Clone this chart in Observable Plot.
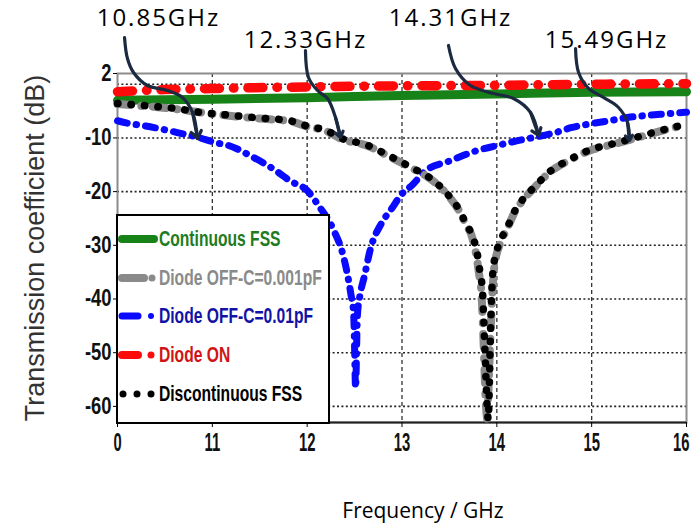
<!DOCTYPE html>
<html>
<head>
<meta charset="utf-8">
<script src="https://cdn.jsdelivr.net/npm/d3@7"></script>
<script src="https://cdn.jsdelivr.net/npm/@observablehq/plot@0.6"></script>
<style>
  html, body { margin: 0; padding: 0; background: #fff; }
  #wrap { position: relative; width: 696px; height: 531px; overflow: hidden; }
  #wrap svg { overflow: visible; }
  #legend { position: absolute; left: 116px; top: 214px; width: 210px; height: 206px;
            border: 2px solid #000; background: #fff; box-sizing: content-box; }
  .lrow { position: absolute; left: 0; height: 30px; display: flex; align-items: center; }
  .lrow svg { width: 40px; height: 14px; flex: none; }
  .lrow span { display: inline-block; margin-left: 1px; font-family: "Liberation Sans", Arial, sans-serif;
               font-weight: bold; font-size: 22px; white-space: nowrap; transform: scaleX(0.71); transform-origin: 0 50%; }
</style>
</head>
<body>
<div id="wrap"></div>
<script>
// ---------------- data ----------------
const xTicks = [10, 11, 12, 13, 14, 15, 16];
const xTickLabels = ["0", "11", "12", "13", "14", "15", "16"];
const yTicks = [2, -10, -20, -30, -40, -50, -60];
const yTickLabels = ["2", "-10", "-20", "-30", "-40", "-50", "-60"];
const yGrid = [0, -10, -20, -30, -40, -50, -60];
const xGrid = [11, 12, 13, 14, 15];

const seriesNames = ["Continuous FSS", "Diode OFF-C=0.001pF", "Diode OFF-C=0.01pF", "Diode ON", "Discontinuous FSS"];

const freqContinuous = [10, 11, 12, 13, 14, 15, 16];
const continuousFSS = [-3.0, -2.8, -2.5, -2.1, -1.8, -1.5, -1.4];

const freqDiodeOn = [10, 10.5, 11, 12, 13, 14, 15, 16];
const diodeOn = [-1.4, -1.0, -0.8, -0.5, -0.3, -0.2, 0.0, 0.1];

const freqDiscontinuous = [10.0, 10.3, 10.6, 10.9, 11.2, 11.5, 11.82, 12.0, 12.2, 12.35, 12.64, 12.86, 13.1, 13.29, 13.4, 13.5, 13.6, 13.67, 13.74, 13.79, 13.82, 13.85, 13.86, 13.87, 13.88, 13.89, 13.9, 13.91, 13.92, 13.93, 13.94, 13.965, 14.04, 14.11, 14.18, 14.28, 14.41, 14.55, 14.75, 15.02, 15.2, 15.41, 15.65, 15.94, 16.0];
const discontinuousFSS = [-3.6, -4.0, -4.5, -5.3, -5.8, -6.3, -6.8, -7.8, -8.6, -10.0, -11.4, -13.3, -15.5, -17.4, -19.0, -20.9, -23.3, -25.8, -28.2, -31.2, -34.7, -38.8, -42.9, -47.5, -52.0, -57.0, -60.5, -62.5, -57.0, -49.0, -42.0, -33.8, -29.1, -26.7, -23.9, -21.3, -18.9, -16.4, -14.2, -12.0, -11.2, -10.2, -9.0, -7.7, -7.5];

const freqOff001 = [10.0, 10.3, 10.6, 10.9, 11.2, 11.5, 11.82, 12.0, 12.2, 12.35, 12.64, 12.86, 13.1, 13.29, 13.4, 13.5, 13.6, 13.67, 13.74, 13.78, 13.81, 13.84, 13.85, 13.86, 13.87, 13.88, 13.89, 13.9, 13.91, 13.93, 13.95, 13.97, 14.04, 14.11, 14.18, 14.28, 14.41, 14.55, 14.75, 15.02, 15.2, 15.41, 15.65, 15.94, 16.0];
const diodeOff001 = [-3.7, -4.1, -4.6, -5.3, -5.9, -6.4, -6.9, -7.9, -8.7, -10.1, -11.5, -13.4, -15.6, -17.5, -19.1, -21.0, -23.5, -26.0, -28.5, -31.5, -35.0, -39.5, -43.5, -48.0, -53.0, -58.0, -61.0, -62.5, -58.0, -48.0, -40.0, -34.5, -29.4, -26.9, -24.1, -21.5, -19.0, -16.5, -14.3, -12.1, -11.3, -10.3, -9.1, -7.8, -7.6];

const freqOff01 = [10.0, 10.12, 10.27, 10.45, 10.63, 10.85, 11.04, 11.17, 11.4, 11.67, 11.82, 12.0, 12.12, 12.28, 12.38, 12.46, 12.49, 12.5, 12.51, 12.53, 12.56, 12.6, 12.67, 12.78, 12.89, 13.0, 13.1, 13.25, 13.5, 13.8, 14.01, 14.22, 14.39, 14.62, 14.78, 15.01, 15.2, 15.38, 15.59, 15.8, 16.0];
const diodeOff01 = [-6.8, -7.3, -7.7, -8.3, -9.0, -9.9, -10.9, -11.4, -13.3, -16.1, -18.0, -19.8, -22.6, -27.2, -31.9, -39.0, -42.7, -49.0, -56.5, -43.0, -39.0, -36.0, -30.5, -26.0, -23.2, -20.4, -18.9, -16.1, -14.3, -12.3, -11.4, -10.5, -9.9, -9.0, -8.1, -7.3, -6.75, -6.2, -5.8, -5.5, -5.2];

// annotations (frequency / dB) : labels and arrow paths
const annotLabels = ["10.85GHz", "12.33GHz", "14.31GHz", "15.49GHz"];
const annotLabelF = [10.432, 11.982, 13.512, 15.157];
const annotLabelDb = [12.24, 8.15, 12.24, 8.15];
const arrowPathF = [
  [10.074, 10.105, 10.169, 10.316, 10.527, 10.685, 10.791, 10.844],
  [11.982, 12.014, 12.109, 12.215, 12.299, 12.352],
  [13.490, 13.564, 13.722, 13.965, 14.176, 14.355, 14.440],
  [14.830, 14.862, 14.967, 15.125, 15.283, 15.378, 15.399]
];
const arrowPathDb = [
  [8.70, 4.79, 2.19, -0.24, -1.17, -2.47, -5.26, -10.11],
  [6.28, 1.26, -1.17, -2.66, -6.20, -9.92],
  [7.22, 2.93, -0.24, -1.73, -2.66, -5.26, -9.55],
  [6.66, 2.19, -0.79, -2.47, -4.33, -7.13, -10.48]
];

// ---------------- build ----------------
const rows = (fs, vs) => fs.map((f, i) => ({f, v: vs[i]}));
const xLab = new Map(xTicks.map((t, i) => [t, xTickLabels[i]]));
const yLab = new Map(yTicks.map((t, i) => [t, yTickLabels[i]]));

const arrowRows = arrowPathF.flatMap((fs, k) => fs.map((f, i) => ({k, f, v: arrowPathDb[k][i]})));
const arrowHeads = arrowPathF.map((fs, k) => {
  const n = fs.length;
  return {f1: fs[n - 2], v1: arrowPathDb[k][n - 2], f2: fs[n - 1], v2: arrowPathDb[k][n - 1]};
});
const labelRows = annotLabels.map((t, i) => ({t, f: annotLabelF[i], v: annotLabelDb[i]}));

const C = {green: "#178217", grey: "#8a8a8a", blue: "#0a0aff", red: "#ff0a0a", black: "#000000", navy: "#1b2a40"};
const tickFont = "'Liberation Sans', Arial, sans-serif";

const chart = Plot.plot({
  width: 696, height: 531,
  marginLeft: 117, marginRight: 10, marginTop: 73, marginBottom: 109,
  style: {background: "white", overflow: "visible"},
  x: {domain: [10, 16]},
  y: {domain: [-63, 2]},
  marks: [
    Plot.gridY(yGrid, {stroke: "#222", strokeOpacity: 1, strokeDasharray: "2,2.4", strokeWidth: 1.6}),
    Plot.gridX(xGrid, {stroke: "#333", strokeOpacity: 1, strokeDasharray: "4,3", strokeWidth: 1.3}),
    Plot.frame({stroke: "#8c8c8c", strokeWidth: 2}),
    Plot.ruleY([-63], {stroke: "#222", strokeWidth: 2}),
    Plot.axisY(yTicks, {tickFormat: d => yLab.get(d), tickSize: 4, tickPadding: 2, label: null,
      fontSize: 23, fontWeight: "bold", fontFamily: tickFont, className: "ytk", fill: "#111"}),
    Plot.axisX(xTicks, {tickFormat: d => xLab.get(d), tickSize: 5, tickPadding: 5, label: null,
      fontSize: 26, fontWeight: "bold", fontFamily: tickFont, className: "xtk", fill: "#111"}),
    Plot.line(rows(freqContinuous, continuousFSS), {x: "f", y: "v", stroke: C.green, strokeWidth: 9, curve: "monotone-x"}),
    Plot.line(rows(freqDiodeOn, diodeOn), {x: "f", y: "v", stroke: C.red, strokeWidth: 9.5, strokeLinecap: "round",
      strokeDasharray: "15,14,0.5,14", curve: "monotone-x"}),
    Plot.line(rows(freqOff01, diodeOff01), {x: "f", y: "v", stroke: C.blue, strokeWidth: 7, strokeLinecap: "round",
      strokeDasharray: "10,9,0.5,9", curve: "monotone-x"}),
    Plot.line(rows(freqOff001, diodeOff001), {x: "f", y: "v", stroke: C.grey, strokeWidth: 8, strokeLinecap: "round",
      strokeDasharray: "13,11,0.5,11", curve: "monotone-x"}),
    Plot.line(rows(freqDiscontinuous, discontinuousFSS), {x: "f", y: "v", stroke: C.black, strokeWidth: 7.5, strokeLinecap: "round",
      strokeDasharray: "0.5,13", curve: "monotone-x"}),
    Plot.line(arrowRows, {x: "f", y: "v", z: "k", stroke: C.navy, strokeWidth: 3.2, curve: "catmull-rom"}),
    Plot.arrow(arrowHeads, {x1: "f1", y1: "v1", x2: "f2", y2: "v2", stroke: C.navy, strokeWidth: 3.2,
      headLength: 21, headAngle: 72}),
    Plot.text(labelRows, {x: "f", y: "v", text: "t", fontSize: 24, fill: "#000",
      fontFamily: "'Open Sans', sans-serif", className: "annot"}),
    Plot.text(["Transmission coefficient (dB)"], {frameAnchor: "left", textAnchor: "middle", dx: -82, rotate: -90, fontSize: 27,
      fill: "#333", fontFamily: "'Liberation Sans', Arial, sans-serif"}),
    Plot.text(["Frequency / GHz"], {frameAnchor: "bottom", dx: 21, dy: 95, fontSize: 21,
      fill: "#000", fontFamily: "'Open Sans', sans-serif"})
  ]
});

const wrap = document.getElementById("wrap");
wrap.appendChild(chart);
chart.querySelectorAll("g.annot text").forEach(el => el.style.letterSpacing = "2px");

// condense the tick labels (reference uses a narrow bold face)
function condense(sel, factor) {
  chart.querySelectorAll(sel).forEach(t => {
    const w = t.getComputedTextLength();
    t.setAttribute("textLength", (w * factor).toFixed(1));
    t.setAttribute("lengthAdjust", "spacingAndGlyphs");
  });
}
condense("g.xtk text", 0.57);
condense("g.ytk text", 0.8);
// keep the last x label inside the picture: anchor it by its right edge
const xt = chart.querySelectorAll("g.xtk text");
if (xt.length) {
  const last = xt[xt.length - 1];
  last.setAttribute("text-anchor", "end");
  last.setAttribute("dx", "3");
}

// ---------------- legend ----------------
const legendText = ["#1e7b1e", "#8a8a8a", "#1212a6", "#d01414", "#000"];
const legendTops = [8, 47, 85, 124, 163];
const samples = [
  `<line x1="4" y1="7" x2="36" y2="7" stroke="${C.green}" stroke-width="8" stroke-linecap="round"/>`,
  `<line x1="4" y1="7" x2="26" y2="7" stroke="${C.grey}" stroke-width="8" stroke-linecap="round"/><circle cx="34" cy="7" r="3.5" fill="${C.grey}"/>`,
  `<line x1="4" y1="7" x2="20" y2="7" stroke="${C.blue}" stroke-width="7" stroke-linecap="round"/><circle cx="33" cy="7" r="3" fill="${C.blue}"/>`,
  `<line x1="4" y1="7" x2="20" y2="7" stroke="${C.red}" stroke-width="8" stroke-linecap="round"/><circle cx="33" cy="7" r="3.5" fill="${C.red}"/>`,
  `<circle cx="5" cy="7" r="3.5" fill="#000"/><circle cx="19" cy="7" r="3.5" fill="#000"/><circle cx="33" cy="7" r="3.5" fill="#000"/>`
];
const legend = document.createElement("div");
legend.id = "legend";
legend.innerHTML = seriesNames.map((n, i) =>
  `<div class="lrow" style="top:${legendTops[i]}px"><svg viewBox="0 0 40 14">${samples[i]}</svg><span style="color:${legendText[i]}">${n}</span></div>`
).join("");
wrap.appendChild(legend);
</script>
</body>
</html>
